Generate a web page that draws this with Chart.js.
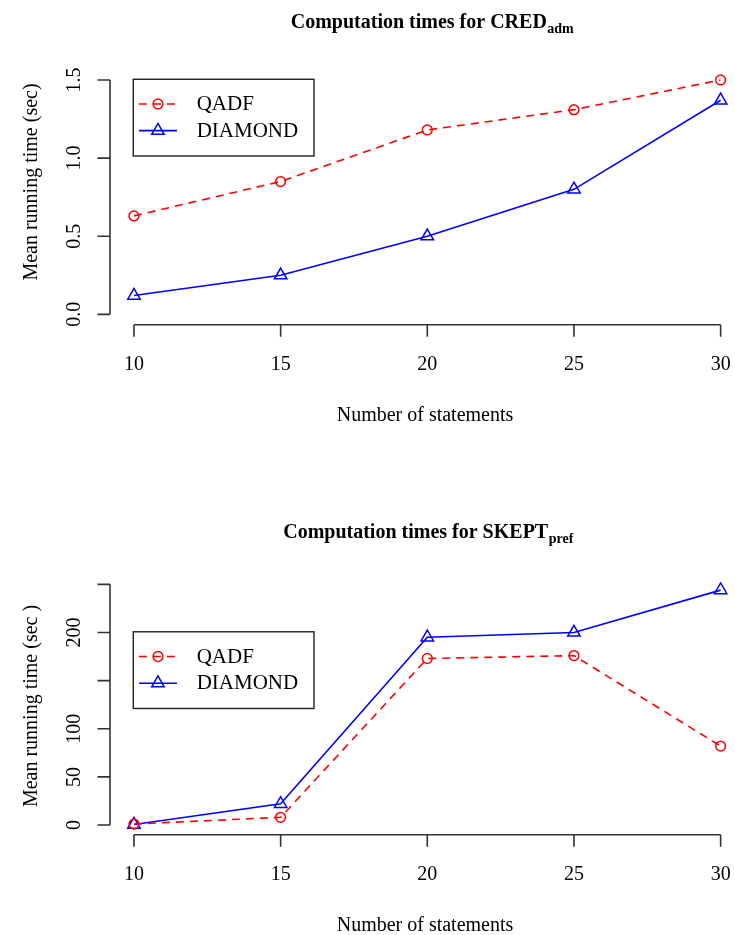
<!DOCTYPE html>
<html>
<head>
<meta charset="utf-8">
<title>Computation times</title>
<script src="https://cdn.jsdelivr.net/npm/chart.js@4.4.1/dist/chart.umd.min.js"></script>
<style>
    html, body { margin: 0; padding: 0; background: #fff; }
    #wrap { position: relative; width: 735px; height: 935px; overflow: hidden; }
    canvas { position: absolute; left: 0; }
</style>
</head>
<body>
<div id="wrap">
    <canvas id="credChart" width="735" height="510" style="top:0"></canvas>
    <canvas id="skeptChart" width="735" height="425" style="top:510px"></canvas>
</div>
<script>
"use strict";

const STATEMENTS = [10, 15, 20, 25, 30];
const X_TICKS = [10, 15, 20, 25, 30];

const CRED_QADF = [0.63, 0.85, 1.18, 1.31, 1.50];
const CRED_DIAMOND = [0.12, 0.25, 0.50, 0.80, 1.37];
const CRED_Y_TICKS = [0, 0.5, 1.0, 1.5];
const CRED_Y_LABELS = ["0.0", "0.5", "1.0", "1.5"];

const SKEPT_QADF = [1, 8, 173, 176, 82];
const SKEPT_DIAMOND = [0.5, 22, 195, 200, 244];
const SKEPT_Y_TICKS = [0, 50, 100, 150, 200, 250];
const SKEPT_Y_LABELS = ["0", "50", "100", "", "200", ""];

const SERIES_NAMES = ["QADF", "DIAMOND"];

const SERIF = '"Liberation Serif", "Times New Roman", serif';
const AXIS_COLOR = "#333";

function points(values) {
    return STATEMENTS.map((x, i) => ({x: x, y: values[i]}));
}

// R style axes, titles and legend, drawn on top of the chart
const rBase = {
    id: "rBase",
    afterDraw(chart, args, opts) {
        const ctx = chart.ctx;
        const xs = chart.scales.x, ys = chart.scales.y;
        const area = chart.chartArea;
        ctx.save();

        // axes
        ctx.strokeStyle = AXIS_COLOR;
        ctx.lineWidth = 1.6;
        const xb = area.bottom + 1;
        const yl = area.left - 0.5;
        ctx.beginPath();
        ctx.moveTo(xs.getPixelForValue(X_TICKS[0]), xb);
        ctx.lineTo(xs.getPixelForValue(X_TICKS[X_TICKS.length - 1]), xb);
        X_TICKS.forEach(v => {
            const px = xs.getPixelForValue(v);
            ctx.moveTo(px, xb);
            ctx.lineTo(px, xb + 12);
        });
        ctx.moveTo(yl, ys.getPixelForValue(opts.yTicks[0]));
        ctx.lineTo(yl, ys.getPixelForValue(opts.yTicks[opts.yTicks.length - 1]));
        opts.yTicks.forEach(v => {
            const py = ys.getPixelForValue(v);
            ctx.moveTo(yl, py);
            ctx.lineTo(yl - 12.5, py);
        });
        ctx.stroke();

        // tick labels
        ctx.fillStyle = "#000";
        ctx.font = "20px " + SERIF;
        ctx.textAlign = "center";
        ctx.textBaseline = "alphabetic";
        X_TICKS.forEach(v => ctx.fillText(String(v), xs.getPixelForValue(v), area.bottom + 46.5));
        opts.yTicks.forEach((v, i) => {
            ctx.save();
            ctx.translate(area.left - 30.5, ys.getPixelForValue(v));
            ctx.rotate(-Math.PI / 2);
            ctx.fillText(opts.yLabels[i], 0, 0);
            ctx.restore();
        });

        // axis titles
        ctx.fillText("Number of statements", 425, area.bottom + 97);
        ctx.save();
        ctx.translate(36.5, opts.yTitleY);
        ctx.rotate(-Math.PI / 2);
        ctx.fillText(opts.yTitle, 0, 0);
        ctx.restore();

        // main title with subscript
        const mainFont = "bold 20px " + SERIF, subFont = "bold 14px " + SERIF;
        ctx.font = mainFont;
        const wMain = ctx.measureText(opts.title).width;
        ctx.font = subFont;
        const wSub = ctx.measureText(opts.sub).width;
        const left = opts.titleX - (wMain + wSub) / 2;
        ctx.textAlign = "left";
        ctx.font = mainFont;
        ctx.fillText(opts.title, left, 28.3);
        ctx.font = subFont;
        ctx.fillText(opts.sub, left + wMain + 0.5, 33.3);

        // legend
        const bx = xs.getPixelForValue(opts.legendAt.x) - 0.7;
        const by = ys.getPixelForValue(opts.legendAt.y) - 0.7;
        ctx.strokeStyle = "#222";
        ctx.lineWidth = 1.4;
        ctx.strokeRect(bx, by, 180.7, 76.7);
        chart.data.datasets.forEach((ds, i) => {
            const ry = by + 24.7 + i * 26.7;
            ctx.save();
            ctx.strokeStyle = ds.borderColor;
            ctx.lineWidth = ds.borderWidth;
            ctx.setLineDash(ds.borderDash || []);
            ctx.beginPath();
            ctx.moveTo(bx + 5.7, ry);
            ctx.lineTo(bx + 43.7, ry);
            ctx.stroke();
            ctx.restore();
            ctx.save();
            ctx.strokeStyle = ds.pointBorderColor;
            ctx.fillStyle = "rgba(0,0,0,0)";
            ctx.lineWidth = ds.pointBorderWidth;
            Chart.helpers.drawPoint(ctx, {
                pointStyle: ds.pointStyle, radius: ds.pointRadius,
                rotation: 0, borderWidth: ds.pointBorderWidth
            }, bx + 24.7, ry);
            ctx.restore();
            ctx.fillStyle = "#000";
            ctx.font = "21px " + SERIF;
            ctx.textAlign = "left";
            ctx.fillText(ds.label, bx + 63.4, ry + 6.2);
        });

        ctx.restore();
    }
};

function makeChart(id, qadf, diamond, yMin, yMax, height, extra) {
    const el = document.getElementById(id);
    return new Chart(el, {
        type: "line",
        data: {
            datasets: [
                {label: SERIES_NAMES[0],
                data: points(qadf),
                borderColor: "#ff0000",
                borderWidth: 1.6,
                borderDash: [8, 6],
                pointStyle: "circle",
                pointRadius: 4.9,
                pointBorderWidth: 1.5,
                pointBorderColor: "#ff0000",
                pointBackgroundColor: "rgba(0,0,0,0)",
                tension: 0,
                clip: false
                },

                {label: SERIES_NAMES[1],
                data: points(diamond),
                borderColor: "#0000ff",
                borderWidth: 1.6,
                pointStyle: "triangle",
                pointRadius: 7.2,
                pointBorderWidth: 1.5,
                pointBorderColor: "#0000ff",
                pointBackgroundColor: "rgba(0,0,0,0)",
                tension: 0,
                clip: false
                }
            ]
        },
        options: {
            responsive: false,
            animation: false,
            events: [],
            layout: {
                autoPadding: false,
                padding: {left: 110.5, right: 0, top: 70.6, bottom: height - 323.7}
            },
            scales: {
                x: {type: "linear", min: 9.2, max: 30.49, display: false},
                y: {type: "linear", min: yMin, max: yMax, display: false}
            },
            plugins: {
                legend: {display: false},
                tooltip: {enabled: false},
                rBase: extra
            }
        },
        plugins: [rBase]
    });
}

makeChart("credChart", CRED_QADF, CRED_DIAMOND, -0.06, 1.56, 510, {
    yTicks: CRED_Y_TICKS,
    yLabels: CRED_Y_LABELS,
    title: "Computation times for CRED",
    sub: "adm",
    titleX: 432,
    yTitle: "Mean running time (sec)",
    yTitleY: 182,
    legendAt: {x: 10, y: 1.5}
});

makeChart("skeptChart", SKEPT_QADF, SKEPT_DIAMOND, -9.0, 253.9, 425, {
    yTicks: SKEPT_Y_TICKS,
    yLabels: SKEPT_Y_LABELS,
    title: "Computation times for SKEPT",
    sub: "pref",
    titleX: 428,
    yTitle: "Mean running time (sec )",
    yTitleY: 196,
    legendAt: {x: 10, y: 200}
});
</script>
</body>
</html>
